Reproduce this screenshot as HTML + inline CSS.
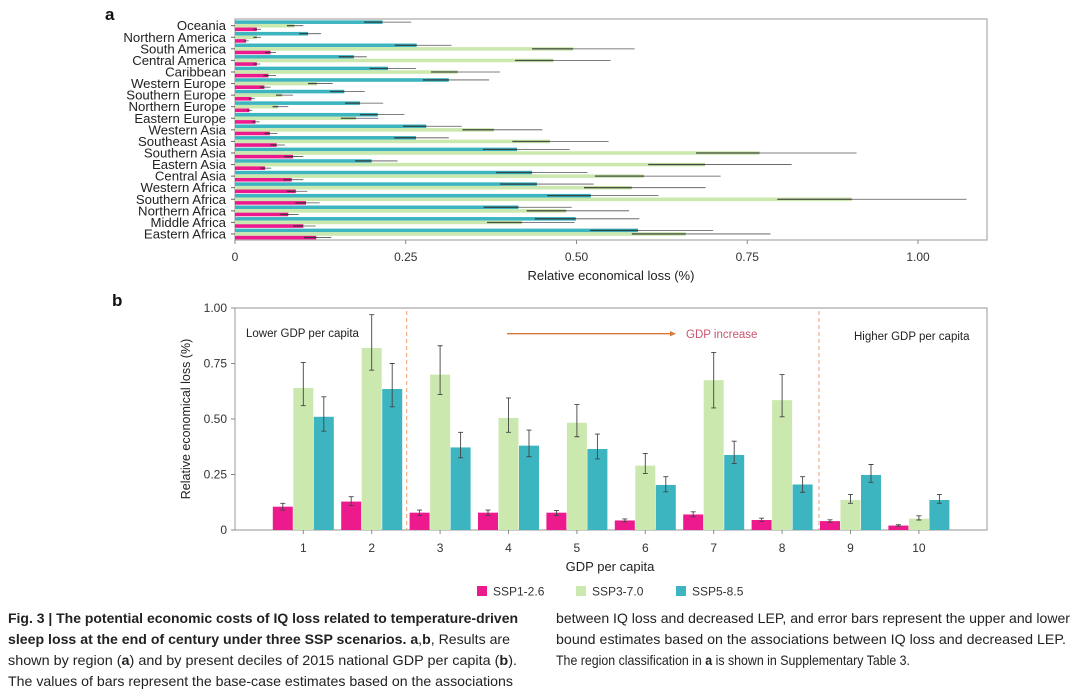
<!DOCTYPE html>
<html><head><meta charset="utf-8"><style>
body{margin:0;background:#fff;width:1080px;height:696px;overflow:hidden;font-family:"Liberation Sans",sans-serif}
svg{position:absolute;left:0;top:0}
.ln{position:absolute;white-space:nowrap;font-family:"Liberation Sans",sans-serif;font-size:14px;line-height:16px;color:#222;transform-origin:0 0}
</style></head><body>
<svg id="chart" width="1080" height="696"></svg>
<div>
<div class="ln" data-w="510" style="left:8px;top:610px"><b>Fig. 3 | The potential economic costs of IQ loss related to temperature-driven</b></div>
<div class="ln" data-w="502" style="left:8px;top:631px"><b>sleep loss at the end of century under three SSP scenarios. a</b>,<b>b</b>, Results are</div>
<div class="ln" data-w="509" style="left:8px;top:652px">shown by region (<b>a</b>) and by present deciles of 2015 national GDP per capita (<b>b</b>).</div>
<div class="ln" data-w="505" style="left:8px;top:673px">The values of bars represent the base-case estimates based on the associations</div>
</div>
<div>
<div class="ln" data-w="514" style="left:556px;top:610px">between IQ loss and decreased LEP, and error bars represent the upper and lower</div>
<div class="ln" data-w="510" style="left:556px;top:631px">bound estimates based on the associations between IQ loss and decreased LEP.</div>
<div class="ln" data-w="354" style="left:556px;top:652px">The region classification in <b>a</b> is shown in Supplementary Table 3.</div>
</div>
<script>
// Panel a data
const regions=["Oceania","Northern America","South America","Central America","Caribbean","Western Europe","Southern Europe","Northern Europe","Eastern Europe","Western Asia","Southeast Asia","Southern Asia","Eastern Asia","Central Asia","Western Africa","Southern Africa","Northern Africa","Middle Africa","Eastern Africa"];
const aSsp1=[0.032,0.016,0.052,0.032,0.049,0.043,0.024,0.021,0.030,0.051,0.061,0.085,0.044,0.083,0.089,0.104,0.078,0.100,0.119];
const aSsp1Up=[0.038,0.020,0.060,0.037,0.060,0.052,0.029,0.025,0.036,0.062,0.073,0.100,0.053,0.100,0.106,0.124,0.093,0.118,0.141];
const aSsp3=[0.087,0.032,0.495,0.466,0.326,0.120,0.069,0.063,0.177,0.379,0.461,0.768,0.688,0.599,0.581,0.903,0.485,0.420,0.660];
const aSsp3Lo=[0.076,0.027,0.435,0.410,0.287,0.107,0.060,0.055,0.155,0.333,0.406,0.675,0.605,0.527,0.511,0.794,0.427,0.369,0.581];
const aSsp3Up=[0.100,0.038,0.585,0.550,0.388,0.143,0.085,0.078,0.210,0.450,0.547,0.910,0.815,0.711,0.689,1.071,0.577,0.497,0.784];
const aSsp5=[0.216,0.107,0.266,0.174,0.224,0.313,0.160,0.183,0.209,0.280,0.265,0.413,0.200,0.435,0.442,0.521,0.415,0.499,0.590];
const aSsp5Lo=[0.189,0.094,0.234,0.152,0.197,0.275,0.139,0.161,0.183,0.246,0.233,0.363,0.176,0.382,0.388,0.457,0.364,0.439,0.520];
const aSsp5Up=[0.258,0.126,0.317,0.193,0.265,0.372,0.190,0.217,0.248,0.332,0.313,0.490,0.238,0.516,0.525,0.620,0.493,0.592,0.700];
const aTicks=[0,0.25,0.5,0.75,1.0];
const aTickLabels=["0","0.25","0.50","0.75","1.00"];
// Panel b data
const deciles=["1","2","3","4","5","6","7","8","9","10"];
const bSsp1=[0.105,0.128,0.078,0.078,0.078,0.043,0.070,0.045,0.040,0.020];
const bSsp1Lo=[0.090,0.110,0.065,0.065,0.065,0.037,0.060,0.038,0.035,0.017];
const bSsp1Up=[0.120,0.150,0.090,0.090,0.088,0.050,0.082,0.053,0.046,0.024];
const bSsp3=[0.640,0.820,0.700,0.505,0.483,0.290,0.675,0.585,0.135,0.051];
const bSsp3Lo=[0.560,0.720,0.610,0.440,0.420,0.255,0.550,0.510,0.120,0.045];
const bSsp3Up=[0.755,0.970,0.830,0.595,0.565,0.345,0.800,0.700,0.160,0.064];
const bSsp5=[0.510,0.635,0.372,0.380,0.365,0.203,0.338,0.205,0.248,0.135];
const bSsp5Lo=[0.445,0.555,0.325,0.330,0.320,0.172,0.300,0.170,0.215,0.120];
const bSsp5Up=[0.600,0.750,0.440,0.450,0.432,0.240,0.400,0.240,0.295,0.160];
const bTicks=[0,0.25,0.5,0.75,1.0];
const bTickLabels=["0","0.25","0.50","0.75","1.00"];

const C1="#ec1a8c",C3="#cbe9ae",C5="#3db5c1";
const svg=document.getElementById('chart');
const NS="http://www.w3.org/2000/svg";
function mk(tag,attrs,parent,text){const e=document.createElementNS(NS,tag);for(const k in attrs)e.setAttribute(k,attrs[k]);if(text!==undefined)e.textContent=text;(parent||svg).appendChild(e);return e;}

// caption line fitting
document.querySelectorAll('.ln').forEach(el=>{
  
  
  const w=el.getBoundingClientRect().width;const tw=+el.dataset.w;
  el.style.transform='scaleX('+(tw/w)+')';
});

// ---------- Panel a ----------
const ax0=235,axW=683,aTop=19,aBot=240,aRight=987;
const ax=v=>ax0+v*axW;
const ay=i=>25.7+i*11.57;
let t=mk('text',{x:105,y:20,'font-size':17,'font-weight':'bold',fill:'#111'},svg,'a');


let fr=mk('rect',{x:ax0,y:aTop,width:aRight-ax0,height:aBot-aTop,fill:'none',stroke:'#aaa','stroke-width':1.2});


const ga=mk('g',{});


function hbar(v,lo,up,yc,col,name){
  let r=mk('rect',{x:ax0,y:yc-1.75,width:ax(v)-ax0,height:3.6,fill:col},ga);
  
  
  let l=mk('line',{x1:ax(lo),x2:ax(up),y1:yc,y2:yc,stroke:'#555','stroke-width':0.8},ga);
  
  
  mk('line',{x1:ax(lo),x2:ax(v),y1:yc,y2:yc,stroke:'rgba(0,0,0,0.35)','stroke-width':1.6},ga);
}
regions.forEach((r,i)=>{
  const y=ay(i);
  hbar(aSsp5[i],aSsp5Lo[i],aSsp5Up[i],y-3.6,C5,'bar-ssp5-'+i);
  hbar(aSsp3[i],aSsp3Lo[i],aSsp3Up[i],y,C3,'bar-ssp3-'+i);
  hbar(aSsp1[i],aSsp1[i]*0.85,aSsp1Up[i],y+3.6,C1,'bar-ssp1-'+i);
  mk('line',{x1:231,x2:235,y1:y,y2:y,stroke:'#666'});
  let lb=mk('text',{x:226,y:y+4.5,'font-size':13.2,'text-anchor':'end',fill:'#222'},svg,r);
  
  
});
aTicks.forEach((v,i)=>{
  mk('line',{x1:ax(v),x2:ax(v),y1:aBot,y2:aBot+4,stroke:'#888'});
  let tl=mk('text',{x:ax(v),y:261,'font-size':12,'text-anchor':'middle',fill:'#333'},svg,aTickLabels[i]);
  
  
});
t=mk('text',{x:611,y:280,'font-size':13,'text-anchor':'middle',fill:'#222'},svg,'Relative economical loss (%)');



// ---------- Panel b ----------
const bx0=235,bRight=987,bY0=530,bH=222,bTop=308;
const by=v=>bY0-v*bH;
const bx=i=>303.3+i*68.4;
t=mk('text',{x:112,y:306,'font-size':17,'font-weight':'bold',fill:'#111'},svg,'b');


fr=mk('path',{d:`M${bx0},${bTop}H${bRight}V${bY0}H${bx0}Z`,fill:'none',stroke:'#aaa','stroke-width':1.2});


const gb=mk('g',{});


function vbar(cx,v,lo,up,col,name){
  let r=mk('rect',{x:cx-10,y:by(v),width:20,height:bY0-by(v),fill:col},gb);
  
  
  let e=mk('path',{d:`M${cx},${by(lo)}V${by(up)}M${cx-2.5},${by(lo)}H${cx+2.5}M${cx-2.5},${by(up)}H${cx+2.5}`,stroke:'#444','stroke-width':0.9,fill:'none'},gb);
  
  
}
deciles.forEach((d,i)=>{
  const c=bx(i);
  vbar(c-20.5,bSsp1[i],bSsp1Lo[i],bSsp1Up[i],C1,'bar-b-ssp1-'+d);
  vbar(c,bSsp3[i],bSsp3Lo[i],bSsp3Up[i],C3,'bar-b-ssp3-'+d);
  vbar(c+20.5,bSsp5[i],bSsp5Lo[i],bSsp5Up[i],C5,'bar-b-ssp5-'+d);
  mk('line',{x1:c,x2:c,y1:bY0,y2:bY0+4,stroke:'#888'});
  let tl=mk('text',{x:c,y:552,'font-size':12,'text-anchor':'middle',fill:'#333'},svg,d);
  
  
});
bTicks.forEach((v,i)=>{
  mk('line',{x1:bx0-4,x2:bx0,y1:by(v),y2:by(v),stroke:'#888'});
  let tl=mk('text',{x:227,y:by(v)+4,'font-size':12,'text-anchor':'end',fill:'#333'},svg,bTickLabels[i]);
  
  
});
t=mk('text',{x:0,y:0,'font-size':12.5,'text-anchor':'middle',fill:'#222',transform:'translate(190,419) rotate(-90)'},svg,'Relative economical loss (%)');


t=mk('text',{x:610,y:571,'font-size':13,'text-anchor':'middle',fill:'#222'},svg,'GDP per capita');


[406.7,819].forEach(x=>{let l=mk('line',{x1:x,x2:x,y1:bTop+3,y2:bY0,stroke:'#f0a070','stroke-width':1,'stroke-dasharray':'4,3'});

});
t=mk('text',{x:246,y:337,'font-size':11.5,fill:'#222'},svg,'Lower GDP per capita');


t=mk('text',{x:854,y:340,'font-size':11.5,fill:'#222'},svg,'Higher GDP per capita');


let ar=mk('path',{d:'M507,333.7H672',stroke:'#d8793a','stroke-width':1.3,fill:'none'});


mk('path',{d:'M676,333.7L670,331V336.4Z',fill:'#d8793a'});
t=mk('text',{x:686,y:338,'font-size':11.5,fill:'#c9566e'},svg,'GDP increase');



// legend
[[C1,'SSP1-2.6',477],[C3,'SSP3-7.0',576],[C5,'SSP5-8.5',676]].forEach(([c,n,x])=>{
  const g=mk('g',{});
  
  
  mk('rect',{x:x,y:586,width:10,height:10,fill:c},g);
  mk('text',{x:x+16,y:595.5,'font-size':12,fill:'#333'},g,n);
});
</script>
</body></html>
